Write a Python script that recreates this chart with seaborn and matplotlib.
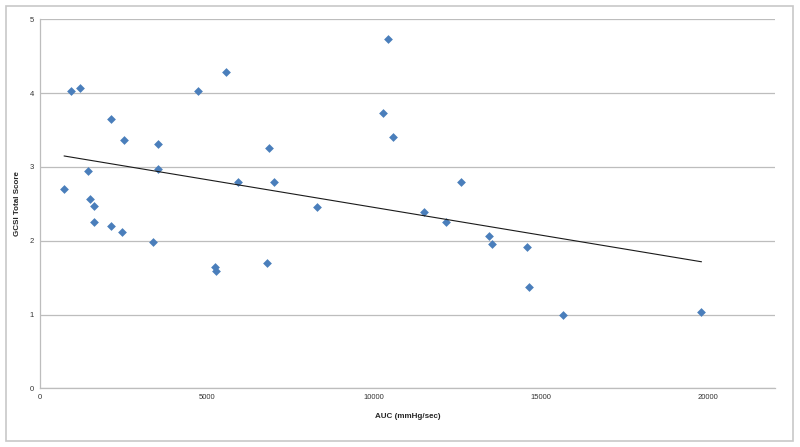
import numpy as np
import pandas as pd
import matplotlib
matplotlib.use("Agg")
import matplotlib.pyplot as plt
import seaborn as sns
from matplotlib.patches import Rectangle

# AUC (mmHg/sec) vs GCSI total score
auc = [734, 934, 1222, 1461, 1512, 1622, 1622, 2150, 2150, 2461, 2520, 3389,
       3548, 3557, 4725, 5234, 5264, 5574, 5922, 6802, 6851, 7000, 8288,
       10284, 10425, 10563, 11503, 12162, 12590, 13437, 13539, 14566, 14635,
       15644, 19796]
gcsi = [2.70, 4.03, 4.065, 2.95, 2.565, 2.47, 2.26, 3.65, 2.20, 2.12, 3.36, 1.98,
        2.97, 3.31, 4.03, 1.64, 1.585, 4.29, 2.79, 1.70, 3.26, 2.79, 2.45,
        3.73, 4.73, 3.40, 2.39, 2.26, 2.79, 2.06, 1.95, 1.92, 1.37,
        1.00, 1.03]
x_ticks = [0, 5000, 10000, 15000, 20000]
y_ticks = [0, 1, 2, 3, 4, 5]

df = pd.DataFrame({"AUC": auc, "GCSI": gcsi})

sns.set_style("white")
plt.rcParams['font.family'] = ['Liberation Sans', 'DejaVu Sans']

fig = plt.figure(figsize=(8, 4.47), dpi=100)
ax = fig.add_axes([0.0494, 0.1313, 0.9196, 0.8255])

# outer chart frame
fig.patches.append(Rectangle((6 / 800, 6 / 447), 787 / 800, 435 / 447,
                             transform=fig.transFigure, fill=False,
                             edgecolor="#c8c8c8", linewidth=1.2, zorder=0))

sns.regplot(data=df, x="AUC", y="GCSI", ax=ax, ci=None, truncate=True,
            marker="D",
            scatter_kws={"color": "#4a7ebb", "s": 20, "alpha": 1,
                         "linewidths": 0, "zorder": 3},
            line_kws={"color": "#1a1a1a", "linewidth": 0.8, "zorder": 4})

ax.set_xlim(0, 22000)
ax.set_ylim(0, 5)
ax.set_xticks(x_ticks)
ax.set_yticks(y_ticks)
ax.tick_params(axis="both", length=0, labelsize=5.5, colors="#333333", pad=4)
ax.yaxis.grid(True, color="#bdbdbd", linewidth=0.9)
ax.set_axisbelow(True)

for s in ["top", "right"]:
    ax.spines[s].set_visible(False)
for s in ["left", "bottom"]:
    ax.spines[s].set_color("#bdbdbd")
    ax.spines[s].set_linewidth(0.9)

ax.set_xlabel("AUC (mmHg/sec)", fontsize=5.8, fontweight="bold", labelpad=9)
ax.set_ylabel("GCSI Total Score", fontsize=5.8, fontweight="bold", labelpad=6)

fig.savefig("out.png", dpi=100)
